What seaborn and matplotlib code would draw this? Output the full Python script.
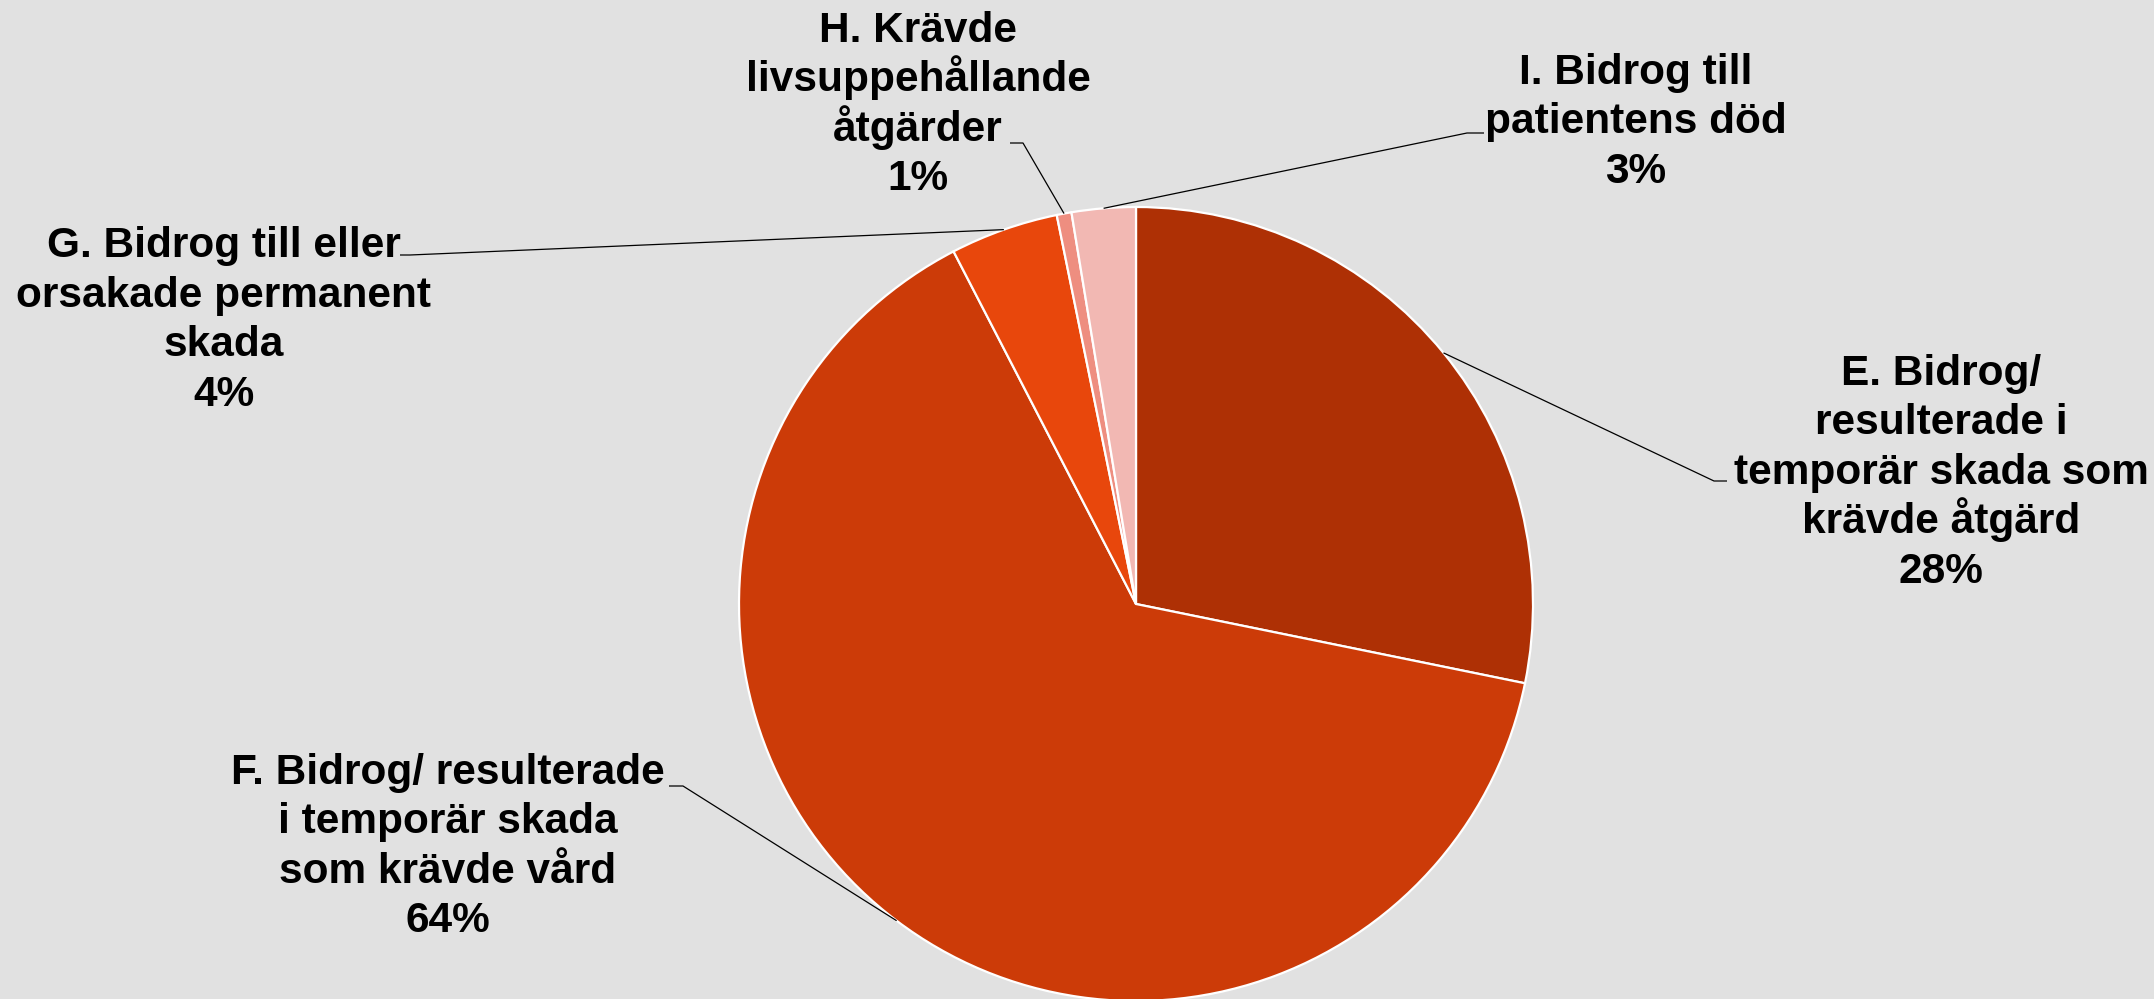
import matplotlib
matplotlib.use("Agg")
import matplotlib.pyplot as plt
import seaborn as sns
import numpy as np

# data
categories = ["E", "F", "G", "H", "I"]
label_texts = [
    ["E. Bidrog/", "resulterade i", "temporär skada som", "krävde åtgärd"],
    ["F. Bidrog/ resulterade", "i temporär skada", "som krävde vård"],
    ["G. Bidrog till eller", "orsakade permanent", "skada"],
    ["H. Krävde", "livsuppehållande", "åtgärder"],
    ["I. Bidrog till", "patientens död"],
]
shares = [28.2, 64.2, 4.4, 0.6, 2.6]
colors = ["#AE3005", "#CC3B08", "#E8470C", "#EE8E80", "#F2B8B3"]

# layout (pixels, top-left origin)
W, H = 2154, 999
bg = "#E1E1E1"
pie_cx, pie_cy, pie_r = 1136, 604, 397
label_pos = [(1941, 385), (448, 784), (224, 257), (918, 42), (1636, 84)]
elbows = [((1714, 481), (1727, 481)),
          ((683, 786), (669, 786)),
          ((410, 255), (400, 255)),
          ((1023, 143), (1010, 143)),
          ((1467, 133), (1484, 133))]
line_step = 49.5

sns.set_theme(style="white")
plt.rcParams["font.family"] = ["Liberation Sans", "DejaVu Sans"]

fig = plt.figure(figsize=(W / 100, H / 100), dpi=100, facecolor=bg)
ax = fig.add_axes([0, 0, 1, 1])
ax.set_facecolor(bg)

wedges, _ = ax.pie(shares, colors=colors, startangle=90, counterclock=False,
                   center=(pie_cx, H - pie_cy), radius=pie_r,
                   wedgeprops=dict(edgecolor="white", linewidth=1.6))
ax.set_xlim(0, W)
ax.set_ylim(0, H)
ax.set_aspect("equal")
ax.axis("off")

for i, w in enumerate(wedges):
    # leader line from wedge mid-angle on the rim
    ang = np.deg2rad((w.theta1 + w.theta2) / 2)
    x0 = pie_cx + pie_r * np.cos(ang)
    y0 = (H - pie_cy) + pie_r * np.sin(ang)
    (ex, ey), (tx, ty) = elbows[i]
    ax.plot([x0, ex, tx], [y0, H - ey, H - ty], color="black", lw=0.9,
            solid_capstyle="butt")

    lines = label_texts[i] + [f"{shares[i]:.0f}%"]
    lx, ly = label_pos[i]
    for k, line in enumerate(lines):
        ax.text(lx, H - (ly + k * line_step), line, ha="center", va="baseline",
                fontsize=30.5, fontweight="bold", color="black")

fig.savefig("out.png", dpi=100, facecolor=bg)
